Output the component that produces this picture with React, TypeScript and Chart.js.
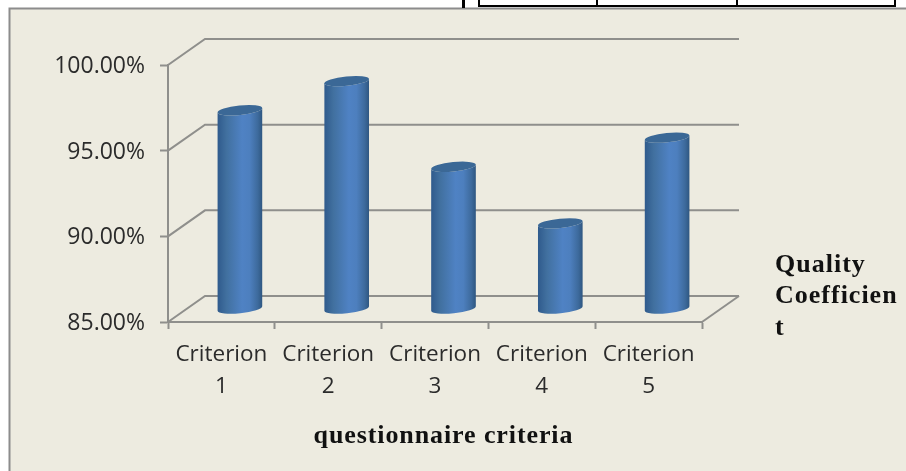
import React, { useEffect, useRef } from "react";
import { Chart, registerables } from "chart.js";

Chart.register(...registerables);

const categories = [["Criterion", "1"], ["Criterion", "2"], ["Criterion", "3"], ["Criterion", "4"], ["Criterion", "5"]];
const qualityCoefficient = [96.6, 98.3, 93.3, 90.0, 95.0];
const axisFloor = 85;
const legendLines = ["Quality", "Coefficien", "t"];
const axisTitle = "questionnaire criteria";
const tableLinesX = [479, 597, 737, 895];

const GRAY = "#8f8f8c";
const DEPTH_X = 37;
const DEPTH_Y = 26;
const PANEL = "#edebe0";

const scenePlugin = {
  id: "scene",
  beforeDraw(chart: any) {
    const { ctx, width, height } = chart;
    ctx.save();
    ctx.fillStyle = "#ffffff";
    ctx.fillRect(0, 0, width, height);
    ctx.fillStyle = PANEL;
    ctx.fillRect(9, 8, width - 9, height - 8);
    ctx.strokeStyle = "#8c8c8c";
    ctx.lineWidth = 2;
    ctx.beginPath();
    ctx.moveTo(9.5, height);
    ctx.lineTo(9.5, 8.5);
    ctx.lineTo(width, 8.5);
    ctx.stroke();
    ctx.strokeStyle = "#000";
    ctx.lineWidth = 2;
    ctx.beginPath();
    ctx.moveTo(tableLinesX[0], 6);
    ctx.lineTo(tableLinesX[tableLinesX.length - 1], 6);
    tableLinesX.forEach((x) => {
      ctx.moveTo(x, 0);
      ctx.lineTo(x, 7);
    });
    ctx.stroke();
    ctx.lineWidth = 3;
    ctx.beginPath();
    ctx.moveTo(463.5, 0);
    ctx.lineTo(463.5, 8);
    ctx.stroke();
    ctx.restore();
  },
  beforeDatasetsDraw(chart: any) {
    const { ctx, scales } = chart;
    const y = scales.y;
    const x = scales.x;
    ctx.save();
    ctx.strokeStyle = GRAY;
    ctx.lineWidth = 2;
    y.ticks.forEach((t: any) => {
      const py = y.getPixelForValue(t.value);
      ctx.beginPath();
      ctx.moveTo(x.left, py);
      ctx.lineTo(x.left + DEPTH_X, py - DEPTH_Y);
      ctx.lineTo(x.right + DEPTH_X, py - DEPTH_Y);
      ctx.stroke();
    });
    ctx.beginPath();
    ctx.moveTo(x.right, y.bottom);
    ctx.lineTo(x.right + DEPTH_X, y.bottom - DEPTH_Y);
    ctx.stroke();
    ctx.restore();
  },
  afterDatasetsDraw(chart: any) {
    const { ctx } = chart;
    const meta = chart.getDatasetMeta(0);
    const rot = -0.1;
    meta.data.forEach((bar: any) => {
      const cx = bar.x + DEPTH_X / 2;
      const top = bar.y - DEPTH_Y / 2;
      const base = bar.base - DEPTH_Y / 2;
      const rx = bar.width / 2;
      const ry = 4.7;
      const g = ctx.createLinearGradient(cx - rx, 0, cx + rx, 0);
      g.addColorStop(0, "#2f5a8c");
      g.addColorStop(0.2, "#41709f");
      g.addColorStop(0.55, "#4f82c4");
      g.addColorStop(0.72, "#4d7fbe");
      g.addColorStop(0.9, "#3d6a9c");
      g.addColorStop(1, "#2e5680");
      ctx.save();
      ctx.beginPath();
      ctx.ellipse(cx, top, rx, ry, rot, Math.PI, 0, true);
      ctx.ellipse(cx, base, rx, ry, rot, 0, Math.PI, false);
      ctx.closePath();
      ctx.fillStyle = g;
      ctx.fill();
      ctx.beginPath();
      ctx.ellipse(cx, top, rx, ry, rot, 0, Math.PI * 2);
      ctx.fillStyle = "#3b6896";
      ctx.fill();
      ctx.restore();
    });
  },
  afterDraw(chart: any) {
    const { ctx } = chart;
    ctx.save();
    ctx.fillStyle = "#111";
    ctx.font = "bold 26px 'Liberation Serif'";
    (ctx as any).letterSpacing = "1px";
    ctx.textAlign = "left";
    ctx.textBaseline = "middle";
    legendLines.forEach((line, i) => ctx.fillText(line, 775, 265 + i * 31.5));
    (ctx as any).letterSpacing = "0.9px";
    ctx.textAlign = "center";
    ctx.fillText(axisTitle, 443.5, 436);
    ctx.restore();
  },
};

export default function App() {
  const ref = useRef<HTMLCanvasElement | null>(null);
  useEffect(() => {
    document.body.style.margin = "0";
    const chart = new Chart(ref.current as HTMLCanvasElement, {
      type: "bar",
      data: {
        labels: categories,
        datasets: [
          {
            label: "Quality Coefficient",
            data: qualityCoefficient,
            base: axisFloor,
            backgroundColor: "transparent",
            borderWidth: 0,
            barPercentage: 1,
            categoryPercentage: 0.42,
          },
        ],
      },
      options: {
        responsive: false,
        animation: false,
        layout: { padding: { left: 10, right: 204, top: 65, bottom: 0 } },
        plugins: { legend: { display: false }, tooltip: { enabled: false } },
        scales: {
          x: {
            grid: { drawOnChartArea: false, drawTicks: true, tickLength: 7, tickColor: GRAY, tickWidth: 2 },
            border: { color: GRAY, width: 2 },
            ticks: {
              autoSkip: false,
              maxRotation: 0,
              minRotation: 0,
              padding: 10,
              color: "#2b2b2b",
              font: { family: "'Open Sans'", size: 22.5, lineHeight: 1.42 },
            },
            afterFit(scale: any) {
              scale.height = 149;
            },
          },
          y: {
            min: axisFloor,
            max: 100,
            grid: { drawOnChartArea: false, drawTicks: true, tickLength: 8, tickColor: GRAY, tickWidth: 2 },
            border: { color: GRAY, width: 2 },
            ticks: {
              stepSize: 5,
              padding: 15,
              labelOffset: 1.5,
              color: "#2b2b2b",
              font: { family: "'Open Sans'", size: 23 },
              callback: (v: any) => Number(v).toFixed(2) + "%",
            },
            afterFit(scale: any) {
              scale.width = 158;
            },
          },
        },
      },
      plugins: [scenePlugin],
    } as any);
    return () => chart.destroy();
  }, []);
  return <canvas ref={ref} width={906} height={471} style={{ display: "block", filter: "blur(0.4px)" }} />;
}
